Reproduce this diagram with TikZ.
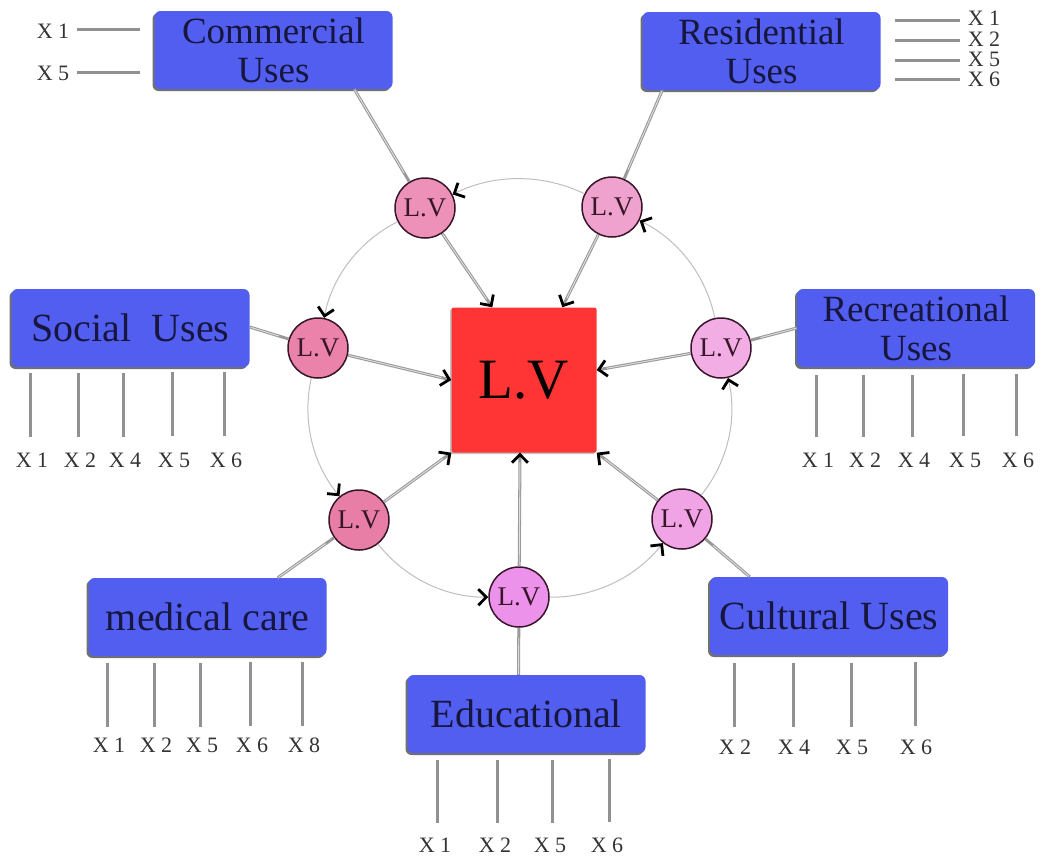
\documentclass[tikz,border=0pt]{standalone}
\usepackage{fontspec}
\setmainfont{Liberation Serif}
\usetikzlibrary{arrows.meta,calc,shadows}
\definecolor{boxblue}{RGB}{82,94,240}
\definecolor{boxtext}{RGB}{22,22,62}
\definecolor{lvred}{RGB}{255,52,52}
\definecolor{pkCom}{RGB}{238,145,185}
\definecolor{pkRes}{RGB}{238,162,205}
\definecolor{pkSoc}{RGB}{234,130,170}
\definecolor{pkRec}{RGB}{242,174,228}
\definecolor{pkMed}{RGB}{232,126,166}
\definecolor{pkEdu}{RGB}{236,146,235}
\definecolor{pkCul}{RGB}{240,164,230}
\definecolor{tickgray}{RGB}{145,145,145}
\definecolor{ringgray}{RGB}{190,190,190}
\definecolor{lvdark}{RGB}{55,22,42}
\begin{document}
\begin{tikzpicture}[x=1pt,y=-1pt,
  usebox/.style={fill=boxblue, rounded corners=6pt, minimum width=238pt, minimum height=78pt,
    inner sep=0pt, text=boxtext, font=\fontsize{40}{36}\selectfont, align=center,
    drop shadow={shadow xshift=-2pt, shadow yshift=-2pt, opacity=0.7, fill=black!80}},
  twoline/.style={font=\fontsize{37}{39}\selectfont},
  lvnode/.style={circle, draw=lvdark, line width=1.5pt, minimum size=60pt, inner sep=0pt,
    font=\fontsize{27}{27}\selectfont, text=lvdark},
  bigbox/.style={fill=lvred, minimum size=145pt, inner sep=0pt, rounded corners=2pt,
    font=\fontsize{57}{57}\selectfont, text=black,
    drop shadow={shadow xshift=-1.5pt, shadow yshift=-1.5pt, opacity=0.4, fill=black!60}},
  lvarrow/.style={-{Straight Barb[color=black,length=8pt,width=16pt,line width=2.8pt]}},
  spoke/.style={draw=gray!80, line width=3pt,
    postaction={draw=gray!25, line width=0.9pt, -, shorten >=10pt, shorten <=1pt}},
  ring/.style={draw=ringgray, line width=1pt, bend right=26, looseness=0.9,
    -{Straight Barb[color=black,length=8pt,width=16pt,line width=2.8pt]}},
  xline/.style={draw=tickgray, line width=3pt},
  xlab/.style={font=\fontsize{22}{22}\selectfont, inner sep=0pt, text=black!80}
]
\useasboundingbox (0,0) rectangle (1041,855);

% central node
\node[bigbox] (sq) at (524,380) {L.V};

% use boxes
\node[usebox, twoline] (com) at (273.5,50) {Commercial\\Uses};
\node[usebox, twoline] (res) at (761.5,51) {Residential\\Uses};
\node[usebox] (soc) at (130.5,328) {Social\ \ Uses};
\node[usebox, twoline] (rec) at (916,328) {Recreational\\Uses};
\node[usebox] (med) at (207.5,617) {medical care};
\node[usebox] (edu) at (526.5,714) {Educational};
\node[usebox] (cul) at (829,616) {Cultural Uses};

% ring nodes
\node[lvnode, fill=pkCom] (ccom) at (425,208) {L.V};
\node[lvnode, fill=pkRes] (cres) at (612,207) {L.V};
\node[lvnode, fill=pkSoc] (csoc) at (318,348) {L.V};
\node[lvnode, fill=pkRec] (crec) at (721,348) {L.V};
\node[lvnode, fill=pkMed] (cmed) at (359,520) {L.V};
\node[lvnode, fill=pkEdu] (cedu) at (519,597) {L.V};
\node[lvnode, fill=pkCul] (ccul) at (682,519) {L.V};

% ring arcs
\draw[ring] (cres) to (ccom);
\draw[ring] (ccom) to (csoc);
\draw[ring] (csoc) to (cmed);
\draw[ring] (cmed) to (cedu);
\draw[ring] (cedu) to (ccul);
\draw[ring] (ccul) to (crec);
\draw[ring] (crec) to (cres);

% attachment points
\coordinate (comA) at ($(com.south west)+(200,0)$);
\coordinate (resA) at ($(res.south west)+(20,0)$);
\coordinate (socA) at ($(soc.east)+(0,-1)$);
\coordinate (recA) at ($(rec.west)+(0,0)$);
\coordinate (medA) at ($(med.north east)+(-49,0)$);
\coordinate (eduA) at ($(edu.north)+(-8,0)$);
\coordinate (culA) at ($(cul.north west)+(40,0)$);
\coordinate (sqCom) at ($(sq.north west)+(41,0)$);
\coordinate (sqRes) at ($(sq.north west)+(111,0)$);
\coordinate (sqSoc) at (sq.west);
\coordinate (sqRec) at ($(sq.east)+(0,-10)$);
\coordinate (sqMed) at (sq.south west);
\coordinate (sqEdu) at ($(sq.south)+(-4,0)$);
\coordinate (sqCul) at (sq.south east);

% spokes box -> ring node
\draw[spoke] (comA) -- (ccom);
\draw[spoke] (resA) -- (cres);
\draw[spoke] (socA) -- (csoc);
\draw[spoke] (recA) -- (crec);
\draw[spoke] (medA) -- (cmed);
\draw[spoke] (eduA) -- (cedu);
\draw[spoke] (culA) -- (ccul);

% spokes ring node -> centre
\draw[spoke, lvarrow] (ccom) -- (sqCom);
\draw[spoke, lvarrow] (cres) -- (sqRes);
\draw[spoke, lvarrow] (csoc) -- (sqSoc);
\draw[spoke, lvarrow] (crec) -- (sqRec);
\draw[spoke, lvarrow] (cmed) -- (sqMed);
\draw[spoke, lvarrow] (cedu) -- (sqEdu);
\draw[spoke, lvarrow] (ccul) -- (sqCul);

% commercial indicators
\node[xlab] (cx1) at (53,31) {X 1};
\node[xlab] (cx5) at (53,73) {X 5};
\draw[xline] (cx1.east) ++(8,-2) -- ++(63,0);
\draw[xline] (cx5.east) ++(8,-1) -- ++(63,0);

% residential indicators
\node[xlab] (rx1) at (984,18.5) {X 1};
\node[xlab] (rx2) at (984,39.5) {X 2};
\node[xlab] (rx5) at (984,59.5) {X 5};
\node[xlab] (rx6) at (984,79.5) {X 6};
\draw[xline] (rx1.west) ++(-8,1.5) -- ++(-65,0);
\draw[xline] (rx2.west) ++(-8,0.5) -- ++(-65,0);
\draw[xline] (rx5.west) ++(-8,0.5) -- ++(-65,0);
\draw[xline] (rx6.west) ++(-8,-0.5) -- ++(-65,0);

% social indicators
\foreach \n/\x/\lab in {s1/32/X 1, s2/80/X 2, s3/125/X 4, s4/174/X 5, s5/226/X 6}{
  \node[xlab] (\n) at (\x,460) {\lab};
  \draw[xline] (\n.north) ++(-2,-16) -- ++(0,-64);
}
% recreational indicators
\foreach \n/\x/\lab in {r1/818/X 1, r2/865/X 2, r3/914/X 4, r4/965/X 5, r5/1018/X 6}{
  \node[xlab] (\n) at (\x,460) {\lab};
  \draw[xline] (\n.north) ++(-2,-16) -- ++(0,-62);
}
% medical indicators
\foreach \n/\x/\lab in {m1/109/X 1, m2/156/X 2, m3/202/X 5, m4/252/X 6, m5/304/X 8}{
  \node[xlab] (\n) at (\x,745) {\lab};
  \draw[xline] (\n.north) ++(-2,-11) -- ++(0,-64);
}
% educational indicators
\foreach \n/\x/\lab in {e1/435/X 1, e2/495/X 2, e3/550/X 5, e4/607/X 6}{
  \node[xlab] (\n) at (\x,845) {\lab};
  \draw[xline] (\n.north) ++(2,-15) -- ++(0,-63);
}
% cultural indicators
\foreach \n/\x/\lab in {k1/735/X 2, k2/794/X 4, k3/852/X 5, k4/916/X 6}{
  \node[xlab] (\n) at (\x,747) {\lab};
  \draw[xline] (\n.north) ++(-1,-13) -- ++(0,-64);
}
\end{tikzpicture}
\end{document}
